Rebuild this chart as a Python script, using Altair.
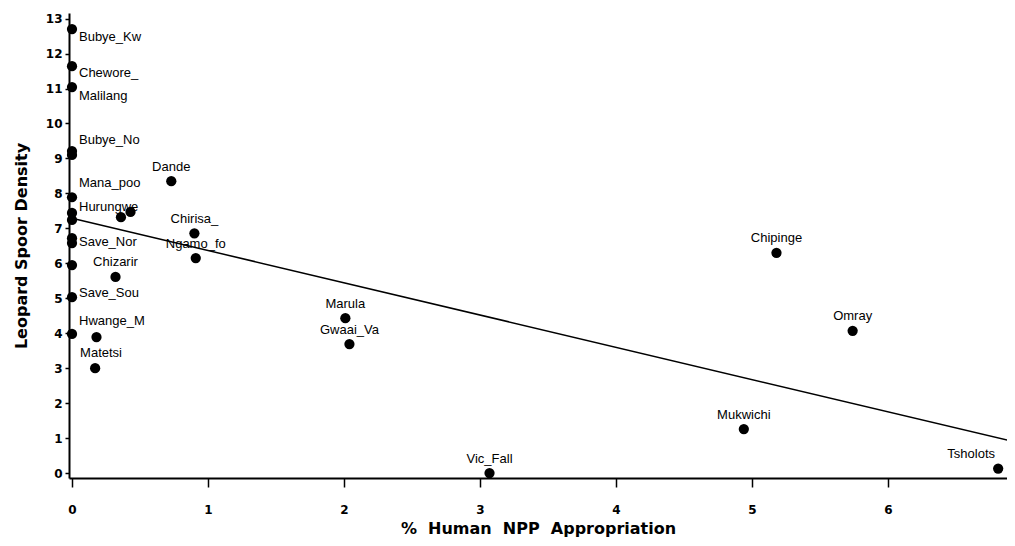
import altair as alt
import pandas as pd

# ---- data ----
site = ["Bubye_Kw", "Chewore_", "Malilang", "Bubye_No", "", "Mana_poo", "", "Hurungwe",
        "", "", "Dande", "Chirisa_", "Ngamo_fo", "Save_Nor", "", "", "Chizarir", "Save_Sou",
        "Hwange_M", "", "Matetsi", "Marula", "Gwaai_Va", "Vic_Fall", "Chipinge", "Omray",
        "Mukwichi", "Tsholots"]
npp = [0, 0, 0, 0, 0, 0, 0, 0, 0.36, 0.43, 0.73, 0.90, 0.91, 0, 0, 0, 0.32, 0, 0, 0.18,
       0.17, 2.01, 2.04, 3.07, 5.18, 5.74, 4.94, 6.81]
density = [12.70, 11.64, 11.04, 9.21, 9.10, 7.89, 7.44, 7.24, 7.32, 7.47, 8.35, 6.86, 6.15,
           6.72, 6.58, 5.95, 5.61, 5.03, 3.98, 3.89, 3.00, 4.43, 3.69, 0.0, 6.30, 4.07, 1.26,
           0.13]
fit_npp = [0.0, 7.0]
fit_density = [7.29, 0.83]
x_ticks = [0, 1, 2, 3, 4, 5, 6, 7]
y_ticks = list(range(0, 14))

df = pd.DataFrame({"idx": range(len(site)), "site": site, "npp": npp, "density": density})
fit = pd.DataFrame({"npp": fit_npp, "density": fit_density})

# label placement (style): align, dx, dy in pixels
place = {
    "Bubye_Kw": ("left", 7, 8),
    "Chewore_": ("left", 7, 7),
    "Malilang": ("left", 7, 9),
    "Bubye_No": ("left", 7, -11),
    "Mana_poo": ("left", 7, -14),
    "Hurungwe": ("left", 7, -13),
    "Save_Nor": ("left", 7, 4),
    "Save_Sou": ("left", 7, -4),
    "Hwange_M": ("left", 7, -13),
    "Matetsi": ("left", -15, -15),
    "Tsholots": ("center", -27, -15),
}
default_place = ("center", 0, -14.5)

NB = "\u00a0"
x_title = f"%{NB}{NB}Human{NB}{NB}NPP{NB}{NB}Appropriation"

xs = alt.Scale(domain=[-0.022, 6.875], nice=False, zero=False)
ys = alt.Scale(domain=[-0.14, 13.16], nice=False, zero=False)

X = alt.X("npp:Q", scale=xs,
          axis=alt.Axis(title=x_title, values=x_ticks, format="d",
                        tickSize=9, labelPadding=17, titlePadding=5))
Y = alt.Y("density:Q", scale=ys,
          axis=alt.Axis(title="Leopard Spoor Density", values=y_ticks, format="d",
                        tickSize=4, labelPadding=3, titlePadding=16))

base = alt.Chart(df)

text_layers = []
for i, name in enumerate(site):
    if not name:
        continue
    align, dx, dy = place.get(name, default_place)
    text_layers.append(
        base.transform_filter(alt.datum.idx == i)
        .mark_text(align=align, baseline="middle", dx=dx, dy=dy,
                   font="Liberation Sans Narrow, Arial Narrow, Liberation Sans, Arial, sans-serif",
                   fontSize=13, color="black")
        .encode(x=X, y=Y, text="site:N")
    )

line = alt.Chart(fit).mark_line(color="black", strokeWidth=1.5, clip=True).encode(x=X, y=Y)
points = base.mark_circle(size=105, color="black", opacity=1).encode(x=X, y=Y)

chart = alt.layer(*text_layers, line, points).properties(
    width=938, height=465,
    autosize=alt.AutoSizeParams(type="none"),
    padding={"left": 61, "top": 5, "right": 0, "bottom": 61},
).configure_view(stroke=None).configure_axis(
    grid=False,
    domainColor="black", domainWidth=2,
    tickColor="black", tickWidth=1.5,
    labelFont="DejaVu Sans", labelFontWeight="bold", labelFontSize=12, labelColor="black",
    titleFont="DejaVu Sans", titleFontWeight="bold", titleFontSize=16, titleColor="black",
)

chart.save("out.html", embed_options={"renderer": "svg", "actions": False})
